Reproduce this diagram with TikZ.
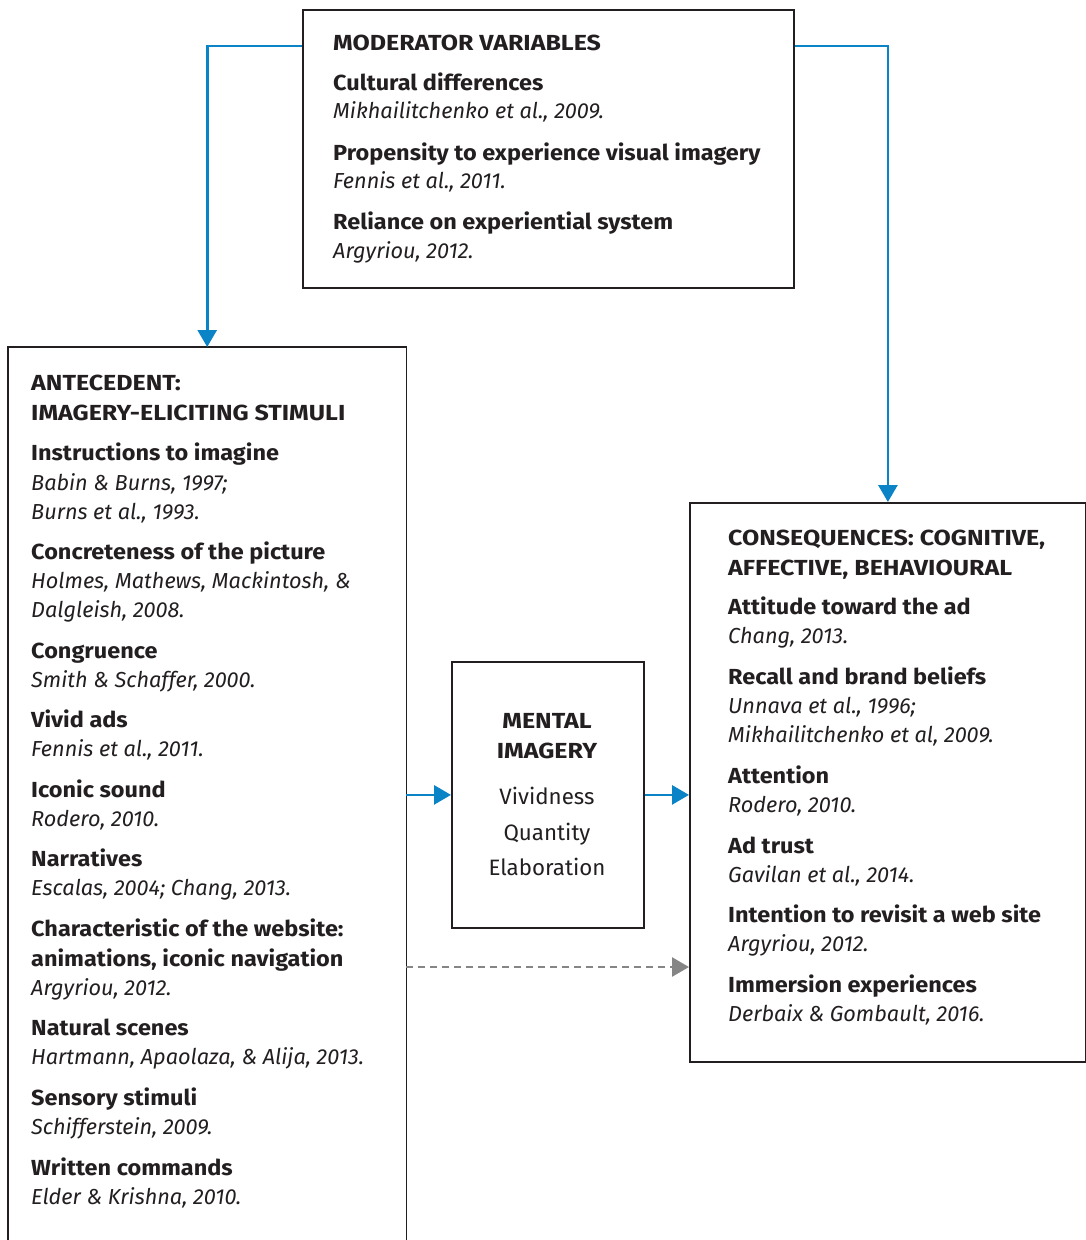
\documentclass[tikz,border=0pt]{standalone}
\usepackage{fontspec}
\setmainfont{Fira Sans}
\newfontfamily\hfont[FakeStretch=1.147]{Fira Sans}
\newfontfamily\tfont[FakeStretch=1.077]{Fira Sans}
\usetikzlibrary{arrows.meta,calc}
\definecolor{bluearr}{HTML}{0A84C6}
\definecolor{boxline}{HTML}{231F20}
\definecolor{txt}{HTML}{231F20}
\definecolor{dashg}{HTML}{858585}
\newcommand{\fsz}{\fontsize{21.8}{24}\selectfont}
\begin{document}
\begin{tikzpicture}[x=1pt,y=-1pt,
  boxst/.style={draw=boxline,line width=1.8pt,inner sep=0pt,anchor=north west},
  hd/.style={anchor=base west,inner sep=0pt,text=txt,font=\hfont\fsz\bfseries},
  ti/.style={anchor=base west,inner sep=0pt,text=txt,font=\tfont\fsz\bfseries},
  ci/.style={anchor=base west,inner sep=0pt,text=txt,font=\fontsize{21.7}{24}\selectfont\itshape},
  mhd/.style={anchor=base,inner sep=0pt,text=txt,font=\hfont\fsz\bfseries},
  mrg/.style={anchor=base,inner sep=0pt,text=txt,font=\fontsize{22.3}{24}\selectfont},
  barrow/.style={draw=bluearr,line width=2.8pt,-{Triangle[length=17pt,width=19pt]}},
  garrow/.style={draw=dashg,line width=2.6pt,dash pattern=on 7pt off 5pt,-{Triangle[length=17pt,width=19pt]}}]
\useasboundingbox (0,0) rectangle (1086,1240);
\fill[white] (0,0) rectangle (1086,1240);
% boxes
\node[boxst,minimum width=491pt,minimum height=278pt] (mod) at (302,9) {};
\node[inner sep=0pt,anchor=north west,minimum width=398pt,minimum height=893pt] (ante) at (8,347) {};
\draw[boxline,line width=1.8pt] (ante.south west) -- (ante.north west) -- (ante.north east) -- (ante.south east);
\node[boxst,minimum width=192pt,minimum height=266pt] (mid) at (451,661) {};
\node[boxst,minimum width=396pt,minimum height=559pt] (cons) at (689,502) {};
% moderator text
\foreach \yy/\ss/\tt [count=\i] in {
  50/hd/{MODERATOR VARIABLES},
  90/ti/{Cultural differences},
  118/ci/{Mikhailitchenko et al., 2009.},
  160/ti/{Propensity to experience visual imagery},
  188/ci/{Fennis et al., 2011.},
  229/ti/{Reliance on experiential system},
  258/ci/{Argyriou, 2012.}}
  \node[style=\ss] (m\i) at (333,\yy) {\tt};
% antecedent text
\foreach \yy/\ss/\tt [count=\i] in {
  390/hd/{ANTECEDENT:},
  420/hd/{IMAGERY-ELICITING STIMULI},
  460/ti/{Instructions to imagine},
  490/ci/{Babin \& Burns, 1997;},
  519/ci/{Burns et al., 1993.},
  559/ti/{Concreteness of the picture},
  588/ci/{Holmes, Mathews, Mackintosh, \&},
  617/ci/{Dalgleish, 2008.},
  658/ti/{Congruence},
  687/ci/{Smith \& Schaffer, 2000.},
  727/ti/{Vivid ads},
  756/ci/{Fennis et al., 2011.},
  797/ti/{Iconic sound},
  826/ci/{Rodero, 2010.},
  866/ti/{Narratives},
  895/ci/{Escalas, 2004; Chang, 2013.},
  936/ti/{Characteristic of the website:},
  966/ti/{animations, iconic navigation},
  995/ci/{Argyriou, 2012.},
  1035/ti/{Natural scenes},
  1064/ci/{Hartmann, Apaolaza, \& Alija, 2013.},
  1105/ti/{Sensory stimuli},
  1134/ci/{Schifferstein, 2009.},
  1175/ti/{Written commands},
  1204/ci/{Elder \& Krishna, 2010.}}
  \node[style=\ss] (a\i) at (31,\yy) {\tt};
% consequences text
\foreach \yy/\ss/\tt [count=\i] in {
  545/hd/{CONSEQUENCES: COGNITIVE,},
  575/hd/{AFFECTIVE, BEHAVIOURAL},
  614/ti/{Attitude toward the ad},
  643/ci/{Chang, 2013.},
  684/ti/{Recall and brand beliefs},
  713/ci/{Unnava et al., 1996;},
  742/ci/{Mikhailitchenko et al, 2009.},
  783/ti/{Attention},
  812/ci/{Rodero, 2010.},
  853/ti/{Ad trust},
  882/ci/{Gavilan et al., 2014.},
  922/ti/{Intention to revisit a web site},
  951/ci/{Argyriou, 2012.},
  992/ti/{Immersion experiences},
  1021/ci/{Derbaix \& Gombault, 2016.}}
  \node[style=\ss] (c\i) at (728,\yy) {\tt};
% mental imagery text
\foreach \yy/\ss/\tt [count=\i] in {
  728/mhd/{MENTAL},
  758/mhd/{IMAGERY},
  804/mrg/{Vividness},
  840/mrg/{Quantity},
  875/mrg/{Elaboration}}
  \node[style=\ss] (x\i) at (547,\yy) {\tt};
% connectors
\coordinate (dy) at (0,967);
\draw[barrow] ([yshift=-37pt]mod.north west) -| (ante.north);
\draw[barrow] ([yshift=-37pt]mod.north east) -| (cons.north);
\draw[barrow] (ante.east |- mid.west) -- (mid.west);
\draw[barrow] (mid.east) -- (cons.west |- mid.east);
\draw[garrow] (ante.east |- dy) -- (cons.west |- dy);
\end{tikzpicture}
\end{document}
